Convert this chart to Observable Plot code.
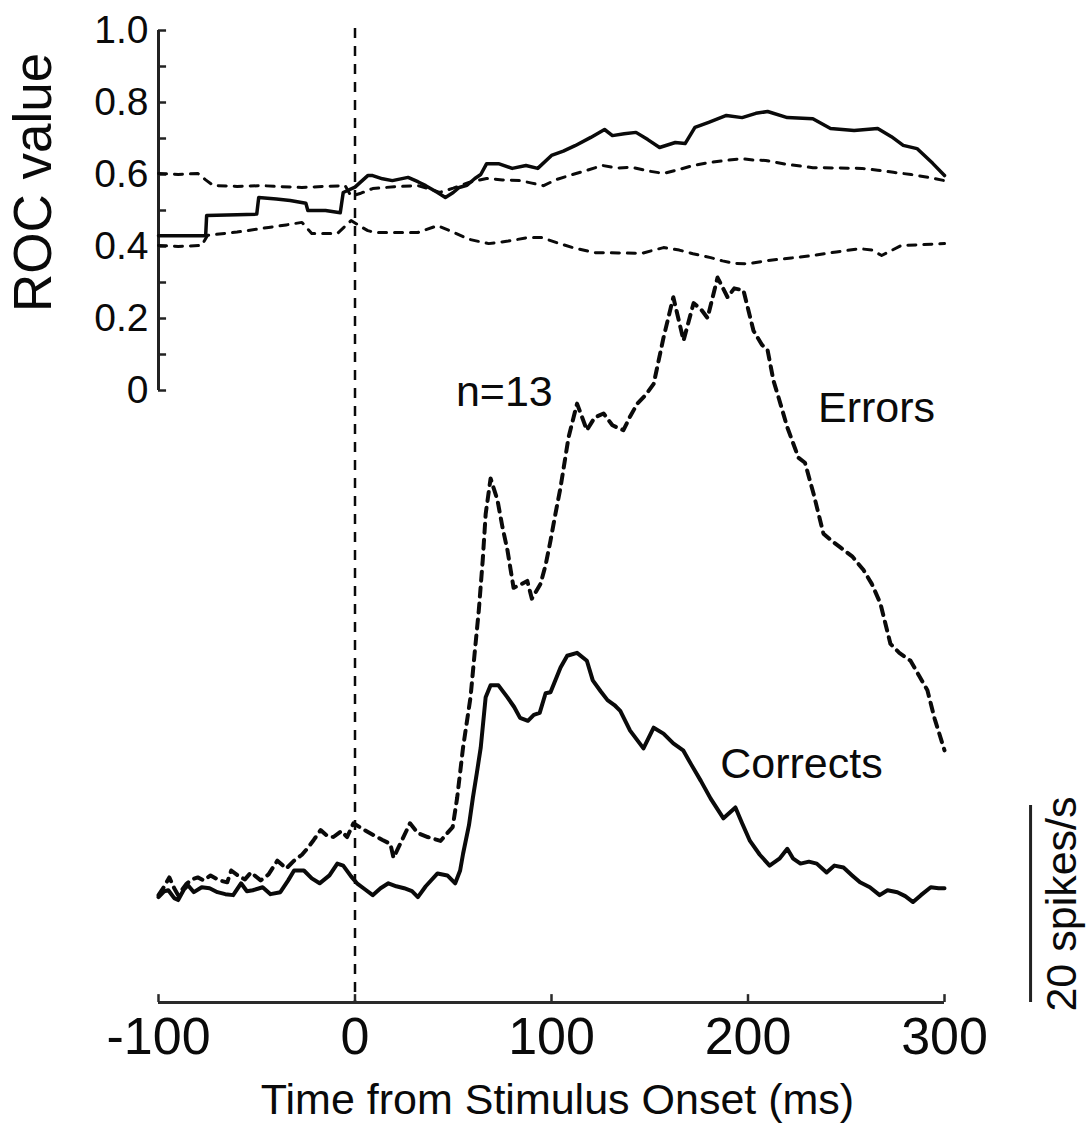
<!DOCTYPE html>
<html>
<head>
<meta charset="utf-8">
<script src="https://cdn.jsdelivr.net/npm/d3@7"></script>
<script src="https://cdn.jsdelivr.net/npm/@observablehq/plot@0.6"></script>
<style>
  html, body { margin: 0; padding: 0; background: #fff; }
  #chart { position: relative; width: 1088px; height: 1123px; }
  #chart svg { position: absolute; left: 0; top: 0; }
</style>
</head>
<body>
<div id="chart"></div>
<script>
// ---------- data ----------
const timeTicks = [-100, 0, 100, 200, 300];
const rocTicks = [0, 0.2, 0.4, 0.6, 0.8, 1.0];
const rocMinorTicks = [0, 0.1, 0.2, 0.3, 0.4, 0.5, 0.6, 0.7, 0.8, 0.9, 1.0];
const scaleBarTime = 343.8;          // ms position of the 20 spikes/s bar
const scaleBar = [0, 20];            // spikes/s
const labels = {n: "n=13", errors: "Errors", corrects: "Corrects",
  x: "Time from Stimulus Onset (ms)", roc: "ROC value", bar: "20 spikes/s"};

// ROC value (time ms, value)
const rocMean = [[-100,0.43],[-76,0.43],[-75.5,0.486],[-60,0.488],[-50,0.49],[-49,0.536],[-40,0.532],[-33,0.528],[-25,0.52],[-24,0.5],[-15,0.5],[-7.5,0.494],[-6,0.55],[0,0.565],[6.5,0.597],[9,0.597],[14,0.588],[19,0.583],[27,0.592],[32,0.58],[36,0.569],[42,0.55],[46,0.536],[50,0.55],[53,0.564],[57,0.57],[61,0.589],[64,0.6],[67,0.63],[73,0.63],[80,0.617],[87,0.625],[93,0.617],[100,0.653],[106,0.665],[112,0.68],[120,0.703],[127,0.725],[131,0.708],[137,0.713],[143,0.717],[149,0.697],[155,0.675],[163,0.689],[168,0.686],[173,0.731],[180,0.745],[189,0.764],[197,0.758],[204,0.77],[210,0.775],[220,0.758],[233,0.755],[242,0.728],[254,0.722],[266,0.728],[273,0.705],[279,0.681],[286,0.672],[294,0.631],[300,0.597]];
const rocUpper = [[-100,0.603],[-90,0.6],[-80,0.603],[-76,0.585],[-72,0.569],[-60,0.567],[-47,0.569],[-38,0.566],[-27,0.564],[-15,0.567],[-5,0.569],[-2,0.54],[3,0.548],[9,0.561],[20,0.566],[32,0.569],[38,0.56],[43,0.55],[50,0.562],[58,0.578],[67,0.589],[75,0.585],[84,0.583],[90,0.576],[96,0.569],[102,0.585],[109,0.597],[117,0.61],[126,0.625],[133,0.618],[141,0.62],[149,0.61],[157,0.603],[165,0.614],[172,0.625],[180,0.633],[190,0.64],[197,0.644],[203,0.64],[209,0.639],[220,0.628],[233,0.619],[245,0.618],[258,0.617],[266,0.612],[274,0.606],[283,0.6],[292,0.592],[300,0.583]];
const rocLower = [[-100,0.403],[-90,0.4],[-78,0.403],[-75,0.431],[-60,0.44],[-44,0.453],[-35,0.46],[-27,0.467],[-22,0.436],[-9,0.436],[-2,0.472],[3,0.455],[6.5,0.444],[10,0.439],[23,0.439],[32,0.439],[42,0.458],[50,0.44],[58,0.42],[68,0.408],[78,0.415],[88,0.425],[95,0.425],[103,0.41],[112,0.395],[122,0.383],[134,0.382],[146,0.381],[157,0.397],[165,0.39],[172,0.38],[181,0.369],[187,0.36],[193,0.353],[200,0.352],[210,0.361],[222,0.368],[233,0.375],[245,0.385],[257,0.394],[263,0.39],[268,0.375],[278,0.403],[288,0.405],[300,0.408]];

// Firing rate, spikes/s (time ms, rate)
const corrects = [[-100,10.7],[-97,11.3],[-95,11.4],[-92,10.6],[-90,10.4],[-87,11.5],[-85,11.9],[-82,11.2],[-78,11.7],[-74,11.6],[-70,11.2],[-66,11.0],[-62,10.9],[-58,12.1],[-55,11.3],[-52,11.4],[-47,11.7],[-43,11.0],[-38,11.2],[-34,12.4],[-31,13.4],[-26,13.4],[-22,12.6],[-18,12.1],[-13,12.9],[-9,14.1],[-6,13.9],[-2,12.8],[1,12.1],[5,11.5],[9,10.9],[13,11.6],[17,12.1],[21,11.8],[25,11.6],[29,11.3],[32,10.7],[36,11.8],[42,13.1],[47,12.9],[51,12.1],[53.5,13.4],[55,15.1],[58,18],[60,20.8],[62,23.3],[64,25.9],[66.5,31],[69,32.2],[73,32.2],[77.5,31],[81,30],[84,28.9],[88,28.6],[91,29.2],[94,29.4],[97,31.4],[99.5,31.5],[104.6,34],[108,35.2],[113,35.5],[118,34.7],[121,32.7],[125,31.6],[128.5,30.7],[132,30.2],[135,29.6],[140,27.6],[146.8,25.8],[152,27.9],[157,27.3],[162,26.3],[167,25.6],[171,24.2],[176,22.5],[181,20.7],[187.5,18.7],[193.6,19.8],[197,18.2],[201,16.4],[206,15.0],[211,13.9],[216,14.6],[220,15.6],[223,14.6],[226.7,14.1],[231,14.3],[235,14.1],[240,13.2],[244,13.9],[248.6,13.7],[253,12.9],[257,12.2],[262,11.7],[267,10.9],[271,11.4],[276,11.2],[280,10.8],[284,10.2],[288,10.9],[293,11.7],[297,11.6],[300,11.6]];
const errors = [[-100,10.9],[-97,11.8],[-94.5,12.7],[-92,11.6],[-90,10.9],[-86,12.0],[-83,12.5],[-80,12.7],[-77,12.4],[-73.5,12.9],[-69,12.4],[-65,12.2],[-63,13.4],[-59,12.8],[-56,12.5],[-53,13.2],[-48,12.4],[-44,13.0],[-39.5,14.4],[-35,13.6],[-31,14.4],[-27,15.0],[-24,15.7],[-21,16.5],[-17.5,17.5],[-14,16.9],[-11,16.8],[-7,17.4],[-4,16.8],[-0.8,18.2],[4,17.6],[9.4,17],[14,16.5],[18,16.1],[19.6,14.7],[23,16.1],[28,18.2],[32,17.2],[37,16.8],[43.5,16.4],[47,17.2],[49.7,17.8],[52,20.8],[55,25.9],[58.8,31],[61,35.7],[63,39.8],[65,44.9],[66.5,49.6],[69,53.2],[72.5,51],[75,48.3],[77.6,45.9],[80.7,42.1],[84,42.4],[87.7,42.8],[90,41],[94.4,42.5],[97,44.4],[99.5,46.9],[102,49.6],[104.6,52.3],[108.7,57.4],[113,60.8],[118,58.1],[122,59.4],[126.5,59.8],[131,58.6],[136.6,58.1],[140,59.5],[143.7,60.8],[148,61.7],[152,62.8],[157,67.5],[162,71.6],[167.2,67.2],[172.3,71],[176,70.4],[179.4,69.5],[184.5,73.6],[189.6,71.6],[193,72.5],[197.7,72.3],[202.8,68.2],[207,66.8],[210,66.2],[213,63.1],[215,61.8],[220,58.4],[225.7,55.3],[229,54.8],[233.3,51.7],[238.4,47.6],[243,46.8],[247,46.2],[253,45.3],[258.8,43.9],[263,42.5],[267.4,40.5],[272.5,36.4],[277,35.5],[282.7,34.7],[287,33.2],[291.3,31.7],[295,28.8],[300,25.6]];

// ---------- drawing ----------
const FONT = "'Liberation Sans', Arial, Helvetica, sans-serif";
const INK = "#0a0a0a";
const W = 1088, H = 1123;
const common = {
  width: W, height: H,
  marginLeft: 158, marginRight: 144,
  style: {background: "transparent", fontFamily: FONT, fontSize: "43px", color: INK, overflow: "visible"}
};
const X = d => d[0], Y = d => d[1];

// Panel 1: firing rates + time axis
const rate = Plot.plot({
  ...common,
  marginTop: 28, marginBottom: 121,
  x: {domain: [-100, 300]},
  y: {domain: [0, 20], range: [1002, 805], axis: null},
  marks: [
    Plot.ruleX([0], {stroke: INK, strokeWidth: 2.5, strokeDasharray: "10,8"}),
    Plot.ruleY([0], {stroke: "#2a2a2a", strokeWidth: 3}),
    Plot.ruleX(timeTicks, {y1: 0, y2: 0.8, stroke: "#2a2a2a", strokeWidth: 2.5}),
    Plot.axisX({ticks: timeTicks, tickFormat: d => String(d), tickSize: 0, tickPadding: 15,
      fontSize: 52, label: null}),
    Plot.line(corrects, {x: X, y: Y, stroke: INK, strokeWidth: 4}),
    Plot.line(errors, {x: X, y: Y, stroke: INK, strokeWidth: 4, strokeDasharray: "9,7"}),
    Plot.text([labels.n], {x: 76, y: 60.6, text: d => d, lineAnchor: "bottom", fontSize: 43}),
    Plot.text([labels.errors], {x: 265.4, y: 58.9, text: d => d, lineAnchor: "bottom", fontSize: 43}),
    Plot.text([labels.corrects], {x: 227.2, y: 22.8, text: d => d, lineAnchor: "bottom", fontSize: 43}),
    Plot.ruleX([scaleBarTime], {y1: scaleBar[0], y2: scaleBar[1], stroke: "#222", strokeWidth: 3}),
    Plot.text([labels.bar], {x: scaleBarTime, y: (scaleBar[0] + scaleBar[1]) / 2, text: d => d,
      rotate: -90, dx: 32, lineAnchor: "middle", fontSize: 43}),
    Plot.text([labels.x], {frameAnchor: "bottom", text: d => d, dy: 111, dx: 6,
      lineAnchor: "bottom", fontSize: 43})
  ]
});

// Panel 2: ROC values
const roc = Plot.plot({
  ...common,
  marginTop: 30, marginBottom: H - 390,
  x: {domain: [-100, 300], axis: null},
  y: {domain: [0, 1], range: [390, 30]},
  marks: [
    Plot.ruleX([-100], {y1: 0, y2: 1, stroke: "#222", strokeWidth: 3}),
    Plot.ruleY(rocMinorTicks, {x1: -100, x2: -95.9, stroke: "#222", strokeWidth: 2.5}),
    Plot.axisY({ticks: rocTicks, tickFormat: d => d === 0 ? "0" : d.toFixed(1), tickSize: 0,
      tickPadding: 10, fontSize: 39, label: null}),
    Plot.line(rocUpper, {x: X, y: Y, stroke: INK, strokeWidth: 3, strokeDasharray: "8,8"}),
    Plot.line(rocLower, {x: X, y: Y, stroke: INK, strokeWidth: 3, strokeDasharray: "8,8"}),
    Plot.line(rocMean, {x: X, y: Y, stroke: INK, strokeWidth: 3.5}),
    Plot.text([labels.roc], {x: -100, y: 0.578, text: d => d, rotate: -90, dx: -124,
      lineAnchor: "middle", fontSize: 53})
  ]
});

const host = document.getElementById("chart");
host.appendChild(rate);
host.appendChild(roc);
</script>
</body>
</html>
